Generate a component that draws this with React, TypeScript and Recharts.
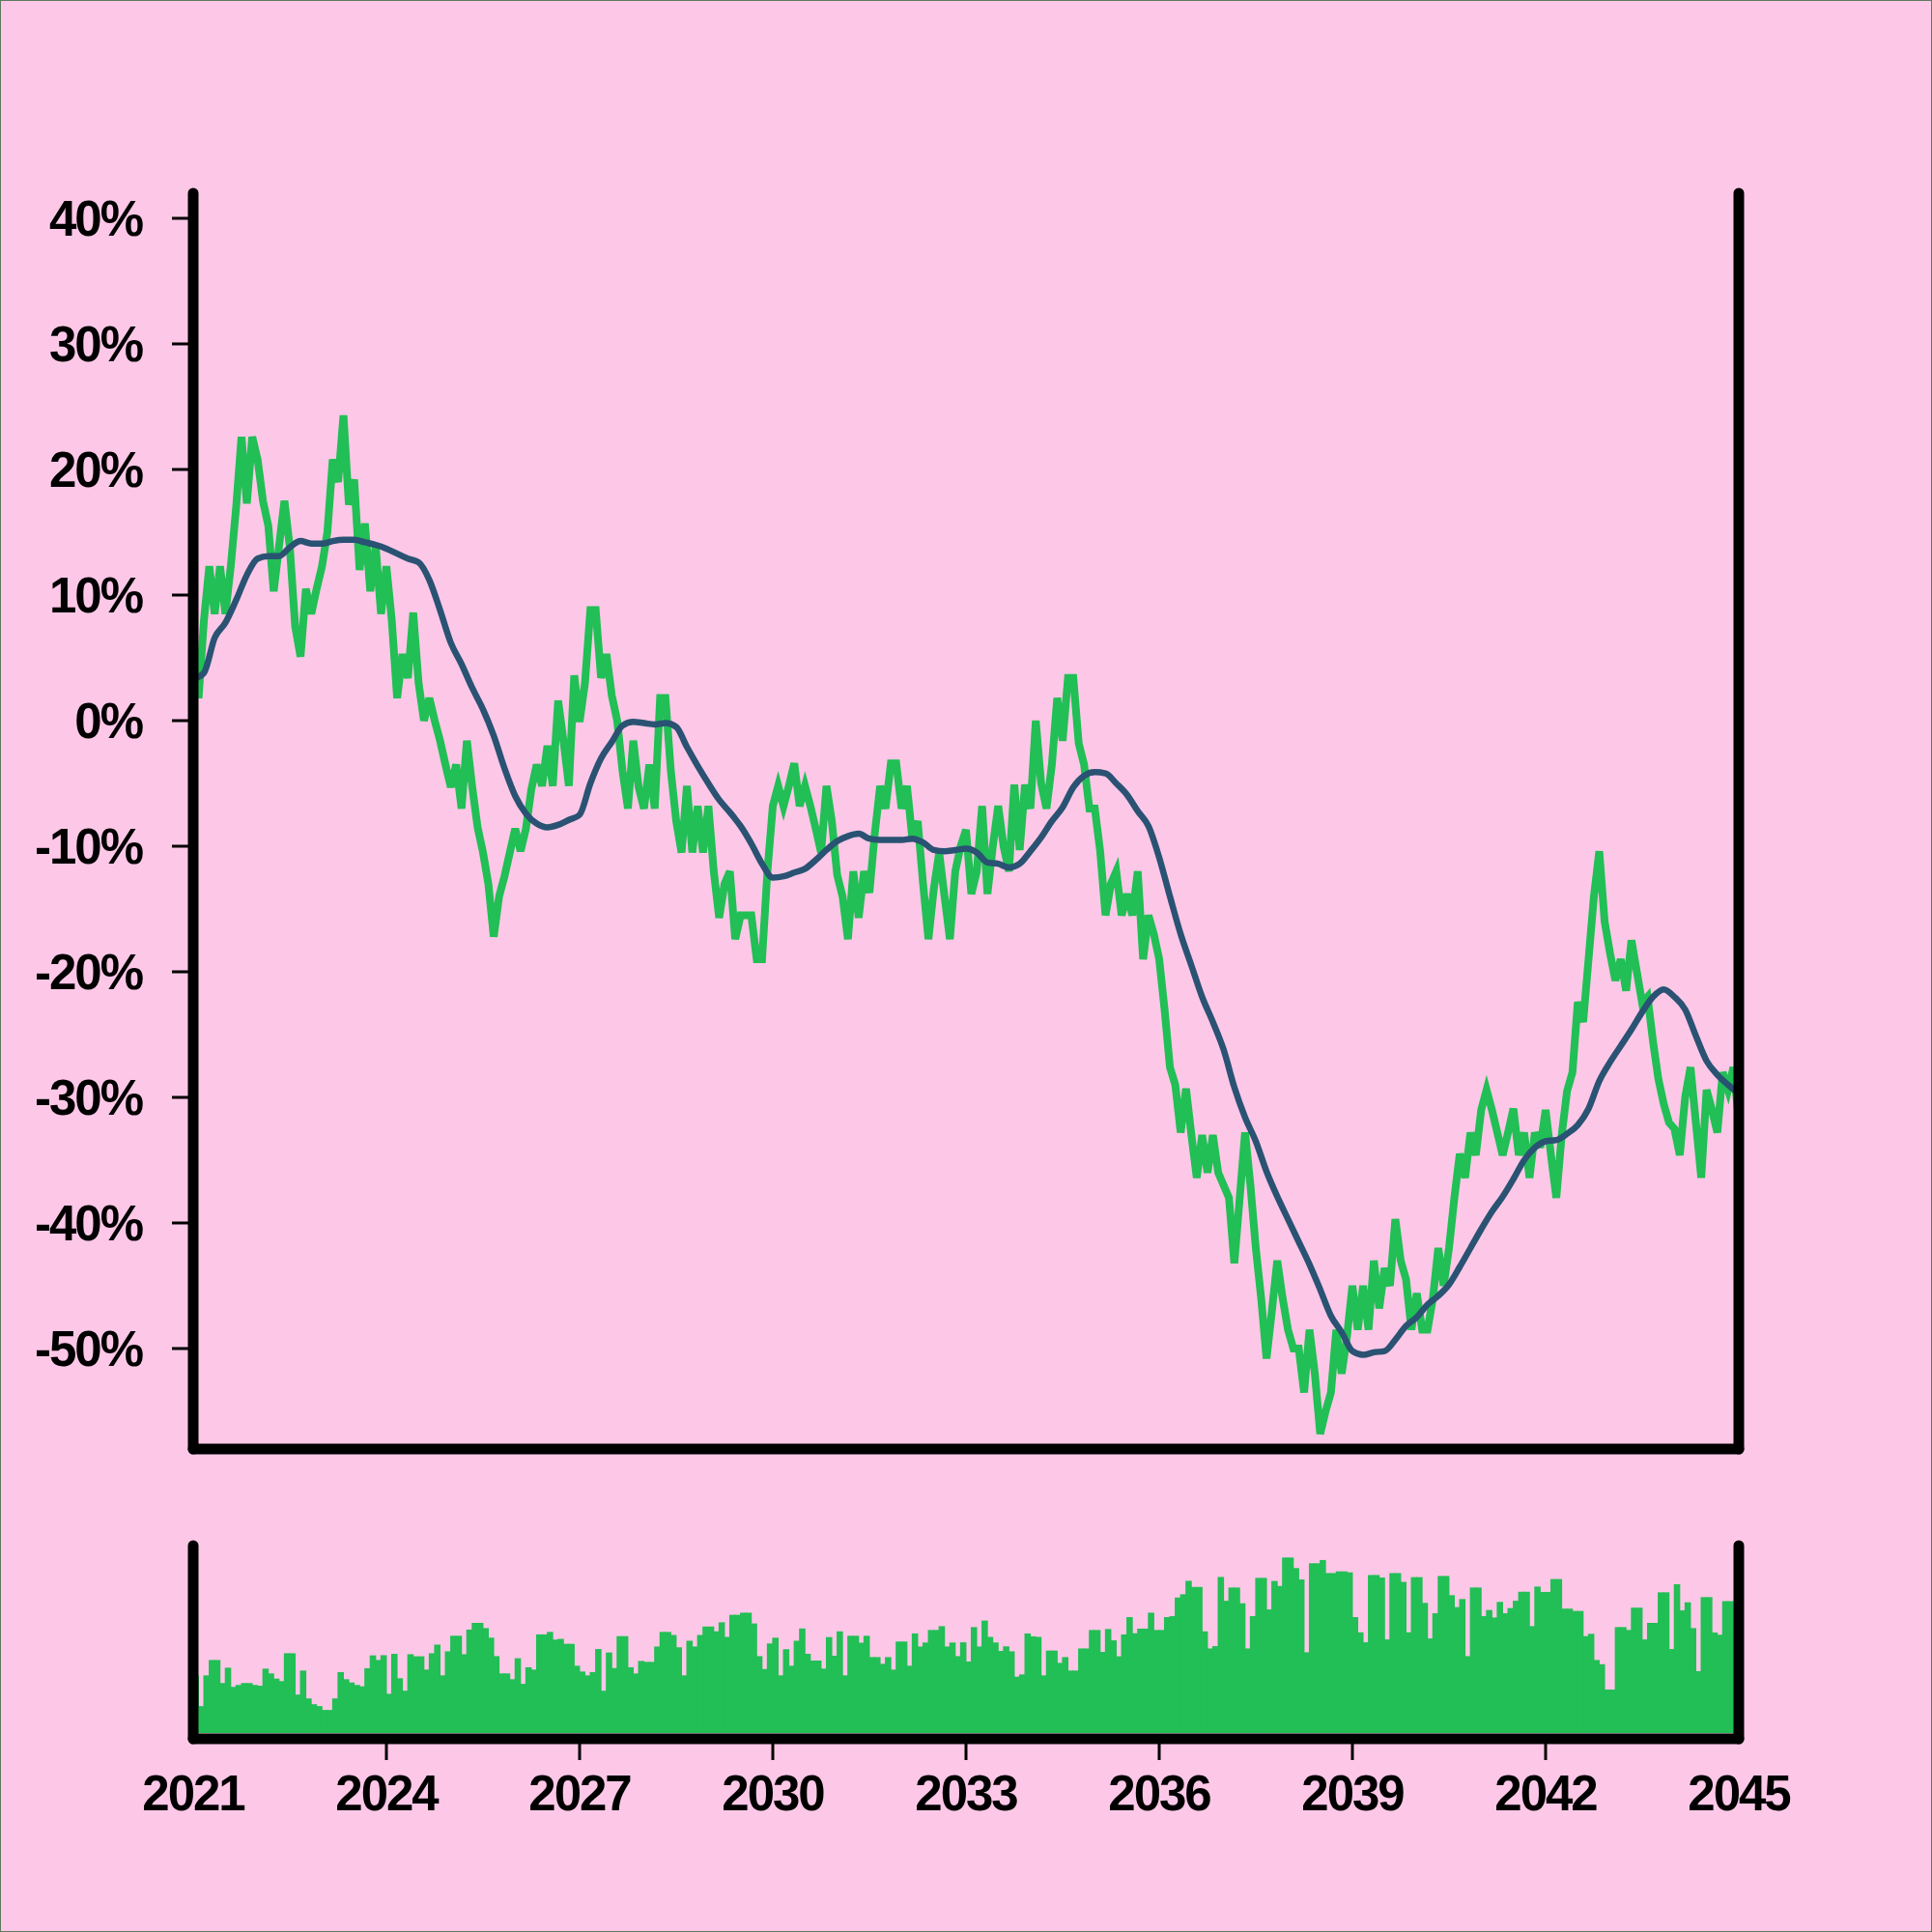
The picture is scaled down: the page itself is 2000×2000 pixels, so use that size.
import React from 'react';
import { LineChart, Line, XAxis, YAxis, BarChart, Bar } from 'recharts';

const START_YEAR = 2021;
const END_YEAR = 2045;
const xTicks = [2021, 2024, 2027, 2030, 2033, 2036, 2039, 2042, 2045];
const yTicks = [-50, -40, -30, -20, -10, 0, 10, 20, 30, 40];

// monthly % change, Jan 2021 .. Jan 2045
const priceChange = [
  5.3, 1.8, 8, 12.3, 8.5, 12.3, 8.5, 12.3, 17, 22.6, 17.3, 22.6,
  20.8, 17.5, 15.5, 10.3, 13.9, 17.5, 13.8, 7.5, 5.1, 10.5, 8.5, 10.5,
  12.3, 15, 20.8, 19, 24.3, 17.2, 19.2, 12, 15.7, 10.3, 13.9, 8.5,
  12.3, 8, 1.8, 5.3, 3.4, 8.6, 3, 0, 1.8, 0, -1.6, -3.5,
  -5.3, -3.5, -7, -1.6, -5.3, -8.5, -10.5, -13, -17.2, -14, -12.4, -10.5,
  -8.6, -10.4, -8.6, -5.5, -3.5, -5.2, -2, -5.2, 1.6, -1.6, -5.2, 3.6,
  -0.1, 3, 8.8, 8.8, 3.4, 5.3, 2, 0, -4, -7, -1.6, -5.3,
  -7, -3.5, -7, 1.8, 1.8, -4, -8, -10.5, -5.2, -10.5, -6.8, -10.5,
  -6.8, -12, -15.7, -13, -12, -17.4, -15.5, -15.5, -15.5, -19, -19, -12,
  -6.8, -5.2, -6.8, -5.2, -3.4, -6.8, -5.2, -6.8, -8.6, -10.5, -5.2, -8,
  -12.3, -14, -17.4, -12, -15.7, -12, -13.7, -9, -5.2, -7, -3.4, -3.4,
  -7, -5.2, -9.4, -8, -13, -17.4, -13.4, -10.5, -14, -17.4, -12, -10,
  -8.7, -13.8, -12, -6.8, -13.8, -10, -6.8, -10, -12, -5.1, -10.3, -5.1,
  -7, 0, -5, -7, -3.5, 1.8, -1.6, 3.4, 3.4, -1.8, -3.5, -7,
  -7, -10.4, -15.5, -13, -12, -15.5, -13.8, -15.5, -12, -19, -15.5, -17,
  -19, -23, -27.6, -29, -32.8, -29.3, -33, -36.4, -33, -36, -33, -36,
  -37, -38, -43.2, -38, -32.8, -37, -42, -46, -50.8, -47, -43, -46,
  -48.5, -50, -50, -53.5, -48.5, -52, -56.8, -55, -53.5, -48.5, -52, -49,
  -45, -48.5, -45, -48.5, -43, -46.8, -43.6, -45, -39.7, -43, -44.5, -48.5,
  -45.6, -48.5, -48.5, -46, -42, -45, -42, -38, -34.5, -36.4, -32.8, -34.6,
  -31, -29.4, -31, -32.8, -34.6, -32.8, -30.9, -34.6, -32.8, -36.4, -32.8, -34,
  -31, -34.6, -38, -33, -29.5, -28, -22.4, -24, -19, -14, -10.4, -16,
  -18.5, -20.7, -19, -21.5, -17.5, -20, -22.5, -22, -25.5, -28.5, -30.5, -32,
  -32.5, -34.6, -30, -27.6, -32, -36.4, -29.4, -31, -32.8, -28, -29.4, -27.6,
  -31.8,
];

// moving average, every two months, Jan 2021 .. Jan 2045
const movingAverage = [
  3.3, 3.8, 6.6, 7.8, 9.6, 11.6, 12.9, 13.1, 13.1, 13.8, 14.3, 14.1,
  14.1, 14.3, 14.4, 14.4, 14.2, 14, 13.7, 13.3, 12.9, 12.6, 11.2, 8.8,
  6.2, 4.5, 2.6, 0.9, -1.2, -3.8, -6, -7.4, -8.2, -8.5, -8.3, -7.9,
  -7.5, -5, -3, -1.7, -0.4, -0.1, -0.2, -0.3, -0.2, -0.5, -2.1, -3.6,
  -5, -6.3, -7.3, -8.4, -9.8, -11.4, -12.5, -12.4, -12.1, -11.8, -11.1, -10.3,
  -9.6, -9.2, -9, -9.4, -9.5, -9.5, -9.5, -9.4, -9.7, -10.3, -10.4, -10.3,
  -10.2, -10.5, -11.3, -11.4, -11.7, -11.4, -10.4, -9.3, -8, -6.9, -5.3, -4.4,
  -4.1, -4.2, -5, -5.9, -7.2, -8.4, -10.9, -14, -17, -19.5, -22, -24,
  -26.2, -29.2, -31.6, -33.5, -35.9, -37.9, -39.7, -41.5, -43.3, -45.3, -47.4, -48.7,
  -50.2, -50.5, -50.3, -50.2, -49.3, -48.2, -47.5, -46.5, -45.8, -44.9, -43.5, -42,
  -40.5, -39.1, -37.9, -36.5, -35, -34, -33.5, -33.4, -32.9, -32.2, -30.9, -28.7,
  -27.2, -25.9, -24.6, -23.2, -22, -21.4, -22, -23, -25.1, -27.1, -28.2, -29,
  -29.7,
];

// monthly volume (relative units), Jan 2021 .. Dec 2044
const volume = [
  30, 14, 30, 38, 38, 26, 34, 24, 25, 26, 26, 25,
  24.6, 33.5, 31, 28.3, 27, 41.5, 41.5, 20, 32.5, 18, 15, 14,
  12, 12, 18, 31.7, 28, 26.3, 25, 24.3, 33.7, 40.4, 38, 40.5,
  20.4, 41.2, 28.5, 22, 41, 39.9, 39.9, 33, 41.5, 46, 30, 42.5,
  50.6, 50.6, 41, 53.8, 57.3, 57.3, 54.6, 49.6, 40, 31, 31, 28,
  38.9, 25.6, 34.2, 33, 51.3, 51.3, 52.6, 48.6, 49, 46.4, 46.4, 35,
  32, 30, 31.7, 43.7, 22, 41.9, 33.8, 50.4, 50.4, 34.2, 31, 37.5,
  37, 37, 45, 52.6, 52.6, 51, 44.6, 30, 48, 45, 51, 55.4,
  55.4, 52.9, 57.6, 50, 61.5, 61.5, 62.6, 62.6, 57, 40, 33.3, 46.6,
  49.6, 30, 43.6, 35, 48, 54.4, 41.2, 37.7, 37.7, 33.5, 49.9, 40.2,
  52.9, 30, 50.6, 50.6, 47, 50.6, 39.5, 39.5, 36, 39.5, 33, 47.6,
  47.6, 35, 51.8, 45, 47.1, 53.6, 53.6, 55.6, 45, 47.1, 40, 47.2,
  37.2, 55.1, 45, 58.5, 50, 47.1, 42.7, 45.1, 42.5, 29.3, 30.5, 51.8,
  50.3, 50, 30, 42.9, 42.9, 36.5, 39.5, 32.5, 32.5, 44, 44, 53.6,
  53.6, 42.2, 54.1, 48.2, 39.9, 51.3, 60.3, 51.9, 54.3, 54.3, 62.6, 53.6,
  53.6, 60.3, 60.8, 70.5, 72.2, 79.2, 76, 76, 52.9, 44, 45.2, 81.2,
  68.8, 75.7, 75.7, 67.5, 44, 60.8, 80.7, 80.7, 64.3, 79.1, 76.5, 91.3,
  91.3, 85.8, 79.9, 42, 88.3, 88.3, 90, 83.2, 83.2, 84.1, 84.1, 83.6,
  60.3, 52.4, 47.2, 82.2, 82.2, 80.9, 48.7, 83.2, 83.2, 78.6, 52.4, 81.1,
  81.1, 67.7, 49.2, 62.3, 81.7, 81.7, 71.7, 65.5, 69.7, 40, 75.7, 75.7,
  60.8, 64, 60.1, 68.2, 62.3, 65, 68.8, 73.5, 73.5, 55.6, 76.2, 73.4,
  73.4, 80.1, 80.1, 64.7, 64.7, 63.5, 63.5, 50.4, 51.6, 38, 35.8, 22.6,
  22.6, 55.1, 55.1, 53.6, 65.2, 65.2, 48.7, 57.3, 57.3, 73.2, 73.2, 43.7,
  77.4, 63.8, 68, 54.6, 32.2, 70.7, 70.7, 52.3, 51.1, 68.6, 68.6, 52.8,
];

const priceData = priceChange.map((v, i) => ({ t: START_YEAR + i / 12, v }));
const maData = movingAverage.map((v, i) => ({ t: START_YEAR + i / 6, v }));
const volumeData = volume.map((v, i) => ({ t: START_YEAR + (i + 0.5) / 12, v }));

const BG = '#fdc8e7';
const GREEN = '#21bf55';
const NAVY = '#2a5273';
const FONT = '"Liberation Sans", Arial, Helvetica, sans-serif';

const axisLineStyle = { stroke: '#000', strokeWidth: 11, strokeLinecap: 'round' as const };

const YTick = (props: any) => {
  const { x, y, payload } = props;
  return (
    <text
      x={x}
      y={y}
      dy={18}
      textAnchor="end"
      fontFamily={FONT}
      fontWeight={700}
      fontSize={51}
      letterSpacing={-2}
      fill="#000"
    >
      {`${payload.value}%`}
    </text>
  );
};

const XTick = (props: any) => {
  const { x, y, payload } = props;
  const edge = payload.value === START_YEAR || payload.value === END_YEAR;
  return (
    <g>
      {!edge && <line x1={x} x2={x} y1={y + 4} y2={y + 22} stroke="#000" strokeWidth={3} />}
      <text
        x={x}
        y={y + 74}
        textAnchor="middle"
        fontFamily={FONT}
        fontWeight={700}
        fontSize={51}
        letterSpacing={-2}
        fill="#000"
      >
        {payload.value}
      </text>
    </g>
  );
};

// bars slightly widened so neighbouring months touch without hairline gaps
const VolumeBar = (props: any) => {
  const { x, y, width, height } = props;
  if (!height || height <= 0) return null;
  return <rect x={x - 0.6} y={y} width={width + 1.2} height={height} fill={GREEN} />;
};

export default function App() {
  return (
    <div
      style={{
        position: 'absolute',
        left: 0,
        top: 0,
        width: 2000,
        height: 2000,
        background: BG,
        boxShadow: 'inset 0 0 0 1px #5d7a5d',
        overflow: 'hidden',
      }}
    >
      <div style={{ position: 'absolute', left: 0, top: 0 }}>
        <LineChart width={2000} height={1560} margin={{ top: 200, right: 0, bottom: 50, left: 0 }}>
          <XAxis
            type="number"
            dataKey="t"
            domain={[START_YEAR, END_YEAR]}
            ticks={xTicks}
            allowDataOverflow
            tick={false}
            tickLine={false}
            height={10}
            axisLine={axisLineStyle}
          />
          <YAxis
            type="number"
            domain={[-58, 42]}
            ticks={yTicks}
            allowDataOverflow
            interval={0}
            width={200}
            tickSize={22}
            tickMargin={31}
            tickLine={{ stroke: '#000', strokeWidth: 3 }}
            tick={YTick}
            axisLine={axisLineStyle}
          />
          <YAxis
            yAxisId="right"
            orientation="right"
            type="number"
            domain={[-58, 42]}
            allowDataOverflow
            width={200}
            tick={false}
            tickLine={false}
            axisLine={axisLineStyle}
          />
          <Line
            data={priceData}
            dataKey="v"
            type="linear"
            stroke={GREEN}
            strokeWidth={8}
            dot={false}
            activeDot={false}
            isAnimationActive={false}
          />
          <Line
            data={maData}
            dataKey="v"
            type="monotone"
            stroke={NAVY}
            strokeWidth={6.5}
            dot={false}
            activeDot={false}
            isAnimationActive={false}
          />
        </LineChart>
      </div>
      <div style={{ position: 'absolute', left: 0, top: 1500 }}>
        <BarChart
          width={2000}
          height={500}
          data={volumeData}
          margin={{ top: 100, right: 0, bottom: 0, left: 0 }}
          barCategoryGap={0}
          barGap={0}
        >
          <XAxis
            type="number"
            dataKey="t"
            domain={[START_YEAR, END_YEAR]}
            ticks={xTicks}
            allowDataOverflow
            interval={0}
            height={200}
            tickSize={0}
            tickMargin={0}
            tickLine={false}
            tick={XTick}
            axisLine={axisLineStyle}
          />
          <YAxis
            type="number"
            domain={[-3, 97.5]}
            allowDataOverflow
            width={200}
            tick={false}
            tickLine={false}
            axisLine={axisLineStyle}
          />
          <YAxis
            yAxisId="right"
            orientation="right"
            type="number"
            domain={[-3, 97.5]}
            allowDataOverflow
            width={200}
            tick={false}
            tickLine={false}
            axisLine={axisLineStyle}
          />
          <Bar dataKey="v" fill={GREEN} barSize={5.4} shape={VolumeBar} isAnimationActive={false} />
        </BarChart>
      </div>
    </div>
  );
}
